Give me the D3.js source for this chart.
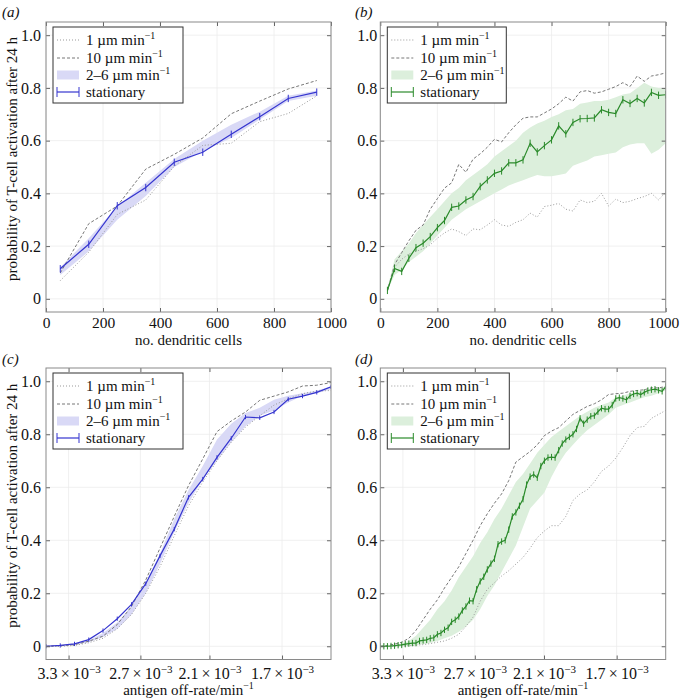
<!DOCTYPE html>
<meta charset='utf-8'>
<html>
  <style>
    body { margin: 0; background: #fff; }
    text { font-family: "Liberation Serif", "DejaVu Serif", serif; fill: #111; }
    .tick text { font-size: 16px; }
    .xcells .tick text { font-size: 15.5px; }
    .legend text { font-size: 15px; }
    .label { font-size: 15px; }
    .letter { font-size: 15px; font-style: italic; }
  </style>
  <head>
    <script src="https://d3js.org/d3.v7.min.js" charset="utf-8"></script>
  </head>
  <body>
    <div id="chart"></div>
    <script type="text/javascript">
      // ---- data ----
      var cellsA = [50, 150, 250, 350, 450, 550, 650, 750, 850, 950];
      var statA = [0.114, 0.207, 0.353, 0.422, 0.518, 0.556, 0.624, 0.691, 0.760, 0.784];
      var fastA = [0.098, 0.285, 0.352, 0.492, 0.548, 0.61, 0.702, 0.750, 0.796, 0.828];
      var slowA = [0.069, 0.177, 0.320, 0.375, 0.503, 0.582, 0.590, 0.672, 0.703, 0.770];
      var bandLoA = [0.09, 0.18, 0.30, 0.39, 0.50, 0.56, 0.61, 0.68, 0.75, 0.77];
      var bandHiA = [0.12, 0.23, 0.35, 0.44, 0.53, 0.60, 0.66, 0.71, 0.77, 0.79];
      var errA = 0.014;

      var cellsB = d3.range(25, 1001, 25);
      var statB = [0.032, 0.115, 0.104, 0.154, 0.194, 0.211, 0.236, 0.270, 0.297, 0.347,
                   0.352, 0.375, 0.388, 0.426, 0.451, 0.476, 0.485, 0.516, 0.516, 0.527,
                   0.590, 0.557, 0.581, 0.603, 0.656, 0.626, 0.669, 0.683, 0.684, 0.686,
                   0.717, 0.707, 0.703, 0.755, 0.741, 0.760, 0.743, 0.783, 0.772, 0.774];
      var fastB = [0.03, 0.13, 0.175, 0.22, 0.26, 0.28, 0.34, 0.38, 0.42, 0.44,
                   0.51, 0.48, 0.53, 0.55, 0.575, 0.605, 0.595, 0.63, 0.66, 0.685,
                   0.69, 0.69, 0.705, 0.72, 0.74, 0.765, 0.75, 0.785, 0.79, 0.78,
                   0.785, 0.795, 0.805, 0.82, 0.805, 0.845, 0.825, 0.845, 0.85, 0.857];
      var slowB = [0.03, 0.12, 0.15, 0.17, 0.18, 0.19, 0.205, 0.23, 0.25, 0.265,
                   0.255, 0.24, 0.265, 0.262, 0.28, 0.30, 0.28, 0.275, 0.29, 0.30,
                   0.325, 0.31, 0.35, 0.355, 0.362, 0.34, 0.333, 0.375, 0.365, 0.37,
                   0.40, 0.352, 0.378, 0.365, 0.37, 0.38, 0.388, 0.40, 0.375, 0.405];
      var bandLoB = [0.03, 0.09, 0.11, 0.14, 0.16, 0.18, 0.21, 0.24, 0.27, 0.30,
                     0.32, 0.34, 0.355, 0.37, 0.385, 0.40, 0.415, 0.43, 0.44, 0.45,
                     0.46, 0.47, 0.465, 0.465, 0.47, 0.475, 0.505, 0.515, 0.525, 0.54,
                     0.545, 0.55, 0.555, 0.575, 0.585, 0.59, 0.59, 0.55, 0.565, 0.59];
      var bandHiB = [0.04, 0.15, 0.18, 0.21, 0.25, 0.28, 0.31, 0.34, 0.37, 0.40,
                     0.42, 0.45, 0.47, 0.49, 0.51, 0.54, 0.56, 0.58, 0.60, 0.63,
                     0.65, 0.665, 0.675, 0.69, 0.70, 0.715, 0.72, 0.74, 0.745, 0.75,
                     0.75, 0.755, 0.765, 0.775, 0.78, 0.80, 0.82, 0.805, 0.80, 0.80];
      var errB = 0.014;

      // off-rates (min^-1), log-spaced sampling between the plot edges
      var kMax = 3.54e-3, kMin = 1.46e-3;
      function kGrid(n) {
        return d3.range(n).map(function(i) { return kMax * Math.pow(kMin / kMax, i / (n - 1)); });
      }
      var offC = kGrid(21);
      var statC = [0, 0.003, 0.009, 0.025, 0.059, 0.104, 0.158, 0.236, 0.341, 0.442, 0.562,
                   0.631, 0.713, 0.785, 0.865, 0.862, 0.884, 0.932, 0.944, 0.958, 0.979];
      var fastC = [0, 0.002, 0.006, 0.019, 0.038, 0.082, 0.15, 0.25, 0.37, 0.49, 0.606,
                   0.707, 0.81, 0.85, 0.884, 0.928, 0.944, 0.96, 0.982, 0.985, 0.995];
      var slowC = [0, 0, 0.003, 0.013, 0.03, 0.066, 0.12, 0.2, 0.3, 0.417, 0.53,
                   0.62, 0.70, 0.77, 0.827, 0.87, 0.91, 0.934, 0.953, 0.963, 0.965];
      var bandLoC = [0, 0, 0.005, 0.015, 0.035, 0.065, 0.12, 0.20, 0.31, 0.43, 0.54,
                     0.63, 0.70, 0.77, 0.83, 0.87, 0.89, 0.92, 0.945, 0.955, 0.97];
      var bandHiC = [0, 0.003, 0.008, 0.022, 0.05, 0.09, 0.15, 0.24, 0.35, 0.48, 0.59,
                     0.68, 0.78, 0.84, 0.88, 0.90, 0.93, 0.945, 0.955, 0.965, 0.98];
      var errC = 0.008;

      var offD = kGrid(81), offD2 = kGrid(41);
      var statD = [0, 0, 0, 0.001, 0.002, 0.004, 0.005, 0.008, 0.010, 0.012,
                   0.012, 0.020, 0.022, 0.024, 0.030, 0.032, 0.045, 0.050, 0.062, 0.070,
                   0.092, 0.100, 0.112, 0.135, 0.150, 0.172, 0.170, 0.215, 0.245, 0.262,
                   0.290, 0.312, 0.330, 0.385, 0.395, 0.400, 0.440, 0.490, 0.505, 0.530,
                   0.555, 0.610, 0.640, 0.648, 0.636, 0.680, 0.700, 0.712, 0.714, 0.712,
                   0.740, 0.765, 0.780, 0.790, 0.800, 0.820, 0.860, 0.840, 0.855, 0.868,
                   0.870, 0.885, 0.898, 0.895, 0.895, 0.910, 0.935, 0.938, 0.935, 0.930,
                   0.945, 0.952, 0.955, 0.950, 0.958, 0.965, 0.968, 0.970, 0.966, 0.962,
                   0.980];
      var fastD = [0, 0.003, 0.008, 0.015, 0.03, 0.06, 0.10, 0.14, 0.175, 0.22,
                   0.26, 0.30, 0.35, 0.40, 0.455, 0.50, 0.54, 0.575, 0.625, 0.695,
                   0.715, 0.735, 0.76, 0.795, 0.812, 0.825, 0.85, 0.875, 0.89, 0.905,
                   0.915, 0.93, 0.95, 0.953, 0.955, 0.962, 0.965, 0.968, 0.975, 0.975, 0.98];
      var slowD = [0, 0, 0, 0.001, 0.002, 0.004, 0.006, 0.01, 0.015, 0.02,
                   0.03, 0.045, 0.075, 0.11, 0.17, 0.215, 0.24, 0.265, 0.285, 0.31,
                   0.335, 0.37, 0.41, 0.435, 0.455, 0.455, 0.49, 0.55, 0.575, 0.59,
                   0.62, 0.66, 0.68, 0.71, 0.75, 0.795, 0.825, 0.83, 0.86, 0.875, 0.89];
      var bandLoD = [0, 0, 0, 0.001, 0.002, 0.005, 0.008, 0.012, 0.02, 0.03,
                     0.04, 0.055, 0.075, 0.10, 0.14, 0.19, 0.23, 0.28, 0.33, 0.38,
                     0.45, 0.52, 0.55, 0.58, 0.64, 0.69, 0.73, 0.76, 0.79, 0.815,
                     0.835, 0.855, 0.875, 0.90, 0.91, 0.92, 0.93, 0.94, 0.945, 0.955, 0.965];
      var bandHiD = [0, 0.002, 0.004, 0.01, 0.02, 0.04, 0.07, 0.10, 0.14, 0.17,
                     0.21, 0.26, 0.30, 0.34, 0.39, 0.43, 0.48, 0.52, 0.57, 0.62,
                     0.65, 0.69, 0.73, 0.76, 0.79, 0.81, 0.83, 0.85, 0.87, 0.885,
                     0.90, 0.91, 0.92, 0.94, 0.945, 0.955, 0.96, 0.965, 0.97, 0.975, 0.98];
      var errD = 0.012;

      var cellTicks = [0, 200, 400, 600, 800, 1000];
      var offTicks = [3.30e-3, 2.64e-3, 2.13e-3, 1.70e-3];
      var offTickLabels = ["3.3", "2.7", "2.1", "1.7"];
      var probTicks = [0, 0.2, 0.4, 0.6, 0.8, 1.0];
      var legendNames = [["1 \u00b5m min", "\u22121"], ["10 \u00b5m min", "\u22121"],
                         ["2\u20136 \u00b5m min", "\u22121"], ["stationary", ""]];

      var blue = "#3535cf", blueBand = "#d9d9f6",
          green = "#2a8a2a", greenBand = "#dcefdc",
          dashCol = "#777", dotCol = "#999", frameCol = "#8a8a8a";

      var panels = [
        {letter: "(a)", lx: 2, ly: 17, left: 46, right: 331, top: 22, bottom: 312, log: false,
         xs: cellsA, xs2: cellsA, stat: statA, fast: fastA, slow: slowA, lo: bandLoA, hi: bandHiA, err: errA,
         col: blue, band: blueBand, legW: 130, ylab: true, xlab: "no. dendritic cells"},
        {letter: "(b)", lx: 355, ly: 17, left: 380.3, right: 665.7, top: 22, bottom: 312, log: false,
         xs: cellsB, xs2: cellsB, stat: statB, fast: fastB, slow: slowB, lo: bandLoB, hi: bandHiB, err: errB,
         col: green, band: greenBand, legW: 119, ylab: false, xlab: "no. dendritic cells"},
        {letter: "(c)", lx: 2, ly: 364, left: 46, right: 331, top: 368, bottom: 659.5, log: true,
         xs: offC, xs2: offC, stat: statC, fast: fastC, slow: slowC, lo: bandLoC, hi: bandHiC, err: errC,
         col: blue, band: blueBand, legW: 130, ylab: true, xlab: "antigen off-rate/min"},
        {letter: "(d)", lx: 355, ly: 364, left: 380.3, right: 665.7, top: 368, bottom: 659.5, log: true,
         xs: offD, xs2: offD2, stat: statD, fast: fastD, slow: slowD, lo: bandLoD, hi: bandHiD, err: errD,
         col: green, band: greenBand, legW: 122, ylab: false, xlab: "antigen off-rate/min"}
      ];

      var svg = d3.select("#chart").append("svg")
        .attr("width", 680)
        .attr("height", 699);

      panels.forEach(function(p, pi) {
        var x = p.log
          ? d3.scaleLog().domain([kMax, kMin]).range([p.left, p.right])
          : d3.scaleLinear().domain([0, 1000]).range([p.left, p.right]);
        var y = d3.scaleLinear().domain([-0.05, 1.05]).range([p.bottom, p.top]);
        var xTicks = p.log ? offTicks : cellTicks;
        var g = svg.append("g");

        g.append("rect")
          .attr("x", p.left).attr("y", p.top)
          .attr("width", p.right - p.left).attr("height", p.bottom - p.top)
          .attr("fill", "#fff");

        // faint grid
        g.selectAll(".vgrid").data(xTicks).enter().append("line")
          .attr("x1", function(d) { return x(d); }).attr("x2", function(d) { return x(d); })
          .attr("y1", p.top).attr("y2", p.bottom)
          .attr("stroke", "#ececec").attr("stroke-width", 0.8);
        g.selectAll(".hgrid").data(probTicks).enter().append("line")
          .attr("y1", function(d) { return y(d); }).attr("y2", function(d) { return y(d); })
          .attr("x1", p.left).attr("x2", p.right)
          .attr("stroke", "#ececec").attr("stroke-width", 0.8);

        var clipId = "clip" + pi;
        g.append("clipPath").attr("id", clipId).append("rect")
          .attr("x", p.left).attr("y", p.top)
          .attr("width", p.right - p.left).attr("height", p.bottom - p.top);
        var plot = g.append("g").attr("clip-path", "url(#" + clipId + ")");

        var band = d3.area()
          .x(function(d, i) { return x(p.xs2[i]); })
          .y0(function(d, i) { return y(p.lo[i]); })
          .y1(function(d, i) { return y(p.hi[i]); });
        plot.append("path").datum(p.lo).attr("d", band).attr("fill", p.band);

        var line2 = d3.line().x(function(d, i) { return x(p.xs2[i]); }).y(function(d) { return y(d); });
        plot.append("path").datum(p.slow).attr("d", line2)
          .attr("fill", "none").attr("stroke", dotCol).attr("stroke-width", 1)
          .attr("stroke-dasharray", "1,2");
        plot.append("path").datum(p.fast).attr("d", line2)
          .attr("fill", "none").attr("stroke", dashCol).attr("stroke-width", 1)
          .attr("stroke-dasharray", "3,2");

        var line1 = d3.line().x(function(d, i) { return x(p.xs[i]); }).y(function(d) { return y(d); });
        plot.append("path").datum(p.stat).attr("d", line1)
          .attr("fill", "none").attr("stroke", p.col).attr("stroke-width", 1.2);
        plot.selectAll(".err").data(p.stat).enter().append("line")
          .attr("x1", function(d, i) { return x(p.xs[i]); })
          .attr("x2", function(d, i) { return x(p.xs[i]); })
          .attr("y1", function(d) { return y(d - p.err); })
          .attr("y2", function(d) { return y(d + p.err); })
          .attr("stroke", p.col).attr("stroke-width", 1);

        // axes: inward ticks on all four sides
        var xb = d3.axisBottom(x).tickValues(xTicks).tickSize(-4).tickPadding(p.log ? 8 : 5)
          .tickFormat(function(d, i) { return p.log ? offTickLabels[i] : d; });
        var gx = g.append("g").attr("class", p.log ? "xoff" : "xcells")
          .attr("transform", "translate(0," + p.bottom + ")").call(xb);
        g.append("g").attr("transform", "translate(0," + p.top + ")")
          .call(d3.axisTop(x).tickValues(xTicks).tickSize(-4).tickFormat(""));
        g.append("g").attr("transform", "translate(" + p.left + ",0)")
          .call(d3.axisLeft(y).tickValues(probTicks).tickSize(-4).tickPadding(p.ylab ? 5 : 3)
            .tickFormat(function(d) { return d === 0 ? "0" : d.toFixed(1); }));
        g.append("g").attr("transform", "translate(" + p.right + ",0)")
          .call(d3.axisRight(y).tickValues(probTicks).tickSize(-4).tickFormat(""));
        g.selectAll(".domain").remove();
        g.selectAll(".tick line").attr("stroke", "#666");
        g.selectAll(".tick text").attr("fill", "#111");

        if (p.log) {
          gx.selectAll(".tick text").each(function(d, i) {
            var t = d3.select(this).text("");
            t.append("tspan").text(offTickLabels[i] + "\u2009\u00d7\u200910");
            t.append("tspan").attr("dy", -6).attr("font-size", 11).text("\u22123");
          });
        } else if (p.right > 600) {
          // keep the last label of the right panel inside the page
          gx.selectAll(".tick text").filter(function(d) { return d === 1000; }).attr("dx", -2.5);
        }

        // frame
        g.append("rect")
          .attr("x", p.left).attr("y", p.top)
          .attr("width", p.right - p.left).attr("height", p.bottom - p.top)
          .attr("fill", "none").attr("stroke", frameCol).attr("stroke-width", 1);

        // axis labels
        var xl = g.append("text").attr("class", "label")
          .attr("x", (p.left + p.right) / 2)
          .attr("y", p.log ? p.bottom + 35.5 : p.bottom + 33)
          .attr("text-anchor", "middle");
        xl.append("tspan").text(p.xlab);
        if (p.log) xl.append("tspan").attr("dy", -6).attr("font-size", 10).text("\u22121");

        if (p.ylab) {
          g.append("text").attr("class", "label")
            .attr("transform", "translate(17," + ((p.top + p.bottom) / 2 - 8) + ") rotate(-90)")
            .attr("text-anchor", "middle")
            .text("probability of T-cell activation after 24 h");
        }

        g.append("text").attr("class", "letter")
          .attr("x", p.lx).attr("y", p.ly).text(p.letter);

        // legend
        var lg = g.append("g").attr("class", "legend")
          .attr("transform", "translate(" + (p.left + 7) + "," + (p.top + 5) + ")");
        lg.append("rect").attr("width", p.legW).attr("height", 76)
          .attr("fill", "#fff").attr("stroke", "#333").attr("stroke-width", 1);
        var rows = [13, 31, 48, 65];
        lg.append("line").attr("x1", 4).attr("x2", 26).attr("y1", rows[0]).attr("y2", rows[0])
          .attr("stroke", dotCol).attr("stroke-dasharray", "1,2");
        lg.append("line").attr("x1", 4).attr("x2", 26).attr("y1", rows[1]).attr("y2", rows[1])
          .attr("stroke", dashCol).attr("stroke-dasharray", "3,2");
        lg.append("rect").attr("x", 4).attr("y", rows[2] - 4.5).attr("width", 22).attr("height", 9)
          .attr("fill", p.band);
        lg.append("line").attr("x1", 4).attr("x2", 26).attr("y1", rows[3]).attr("y2", rows[3])
          .attr("stroke", p.col).attr("stroke-width", 1.2);
        [4, 26].forEach(function(cx) {
          lg.append("line").attr("x1", cx).attr("x2", cx).attr("y1", rows[3] - 5).attr("y2", rows[3] + 5)
            .attr("stroke", p.col).attr("stroke-width", 1);
        });
        legendNames.forEach(function(nm, i) {
          var t = lg.append("text").attr("x", 33).attr("y", rows[i] + 5);
          t.append("tspan").text(nm[0]);
          if (nm[1]) t.append("tspan").attr("dy", -6).attr("font-size", 10).text(nm[1]);
        });
      });
    </script>
  </body>
</html>
